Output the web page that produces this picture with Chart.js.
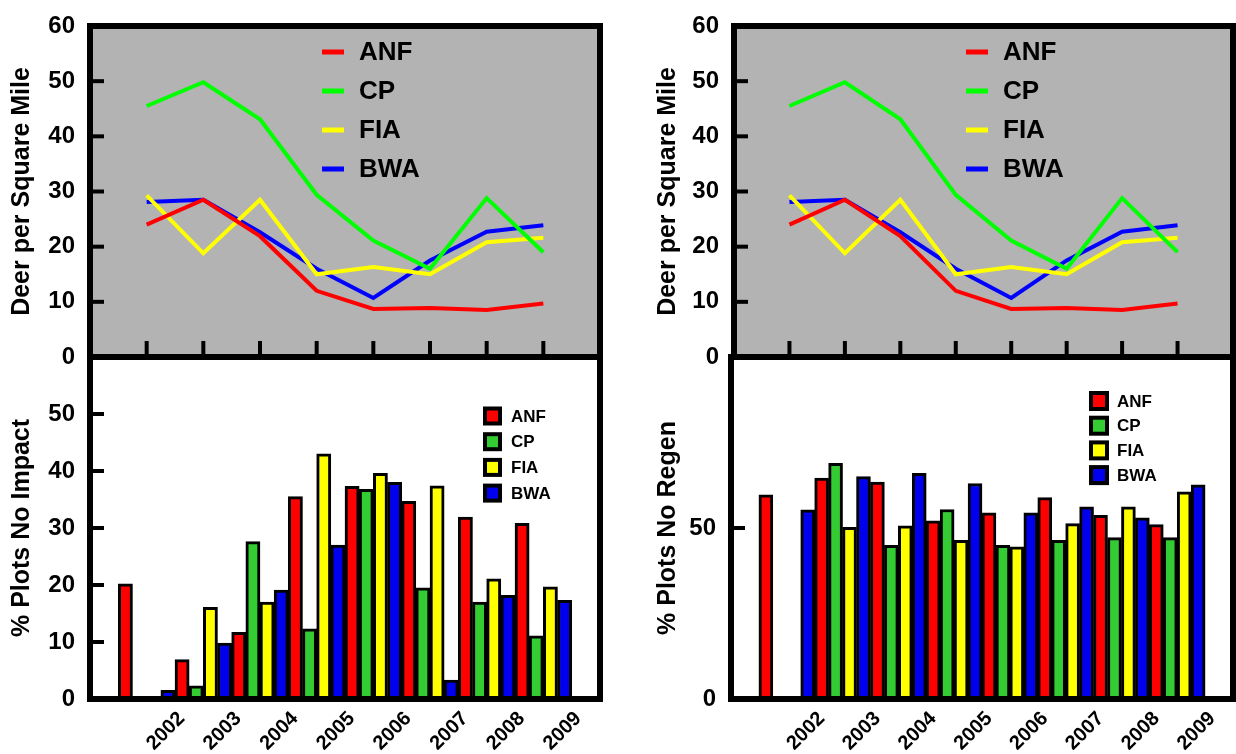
<!DOCTYPE html>
<html>
<head>
<meta charset="utf-8"/>
<style>
  html,body{margin:0;padding:0;background:#fff;overflow:hidden;width:1236px;height:754px;position:relative;}
  canvas{position:absolute;display:block;}
</style>
</head>
<body>
<canvas id="tl" width="620" height="391" style="left:0;top:-4px"></canvas>
<canvas id="tr" width="592" height="391" style="left:644px;top:-4px"></canvas>
<canvas id="bl" width="620" height="427" style="left:0;top:327px"></canvas>
<canvas id="br" width="595" height="427" style="left:641px;top:327px"></canvas>
<script src="https://cdn.jsdelivr.net/npm/chart.js@4.4.0/dist/chart.umd.min.js"></script>
<script>
const years = [2002, 2003, 2004, 2005, 2006, 2007, 2008, 2009];
const sites = ['ANF', 'CP', 'FIA', 'BWA'];

// deer per square mile
const deerANF = [24.0, 28.5, 21.9, 12.0, 8.7, 8.9, 8.5, 9.7];
const deerCP  = [45.5, 49.8, 43.1, 29.4, 21.1, 16.0, 28.8, 19.0];
const deerFIA = [29.3, 18.8, 28.5, 15.0, 16.3, 15.0, 20.8, 21.6];
const deerBWA = [28.1, 28.5, 22.6, 16.0, 10.7, 17.5, 22.7, 23.9];

// % plots no impact
const impactANF = [20.2, 6.9, 11.7, 35.5, 37.3, 34.7, 31.9, 30.8];
const impactCP  = [0, 2.3, 27.6, 12.3, 36.8, 19.5, 17.0, 11.1];
const impactFIA = [0, 16.1, 17.0, 43.0, 39.6, 37.4, 21.1, 19.7];
const impactBWA = [1.5, 9.8, 19.1, 27.0, 38.0, 3.3, 18.2, 17.3];

// % plots no regen
const regenANF = [59.7, 64.6, 63.4, 52.1, 54.4, 58.9, 53.7, 51.0];
const regenCP  = [0, 68.9, 44.9, 55.4, 44.9, 46.4, 47.2, 47.2];
const regenFIA = [0, 50.2, 50.6, 46.4, 44.5, 51.3, 56.2, 60.6];
const regenBWA = [55.3, 65.0, 66.0, 63.0, 54.4, 56.2, 53.0, 62.6];

const deerTicks   = [0, 10, 20, 30, 40, 50, 60];
const impactTicks = [0, 10, 20, 30, 40, 50, 60];
const regenTicks  = [0, 50, 100];

const lineColors = ['#ff0000', '#00ff00', '#ffff00', '#0000ff'];
const barColors  = ['#ff0000', '#33cc33', '#ffff00', '#0000ee'];
const FONT = "'Liberation Sans', Arial, Helvetica, sans-serif";

Chart.defaults.color = '#000';
Chart.defaults.font.family = FONT;

const pts = vals => years.map((yr, i) => ({ x: yr, y: vals[i] }));

function seg(ctx, x1, y1, x2, y2) {
  ctx.beginPath(); ctx.moveTo(x1, y1); ctx.lineTo(x2, y2); ctx.stroke();
}

// grey fill, black frame, inward ticks
const panel = {
  id: 'panel',
  beforeDraw(chart, args, o) {
    const { ctx, chartArea: a } = chart;
    if (!o.fill) return;
    ctx.save();
    ctx.fillStyle = o.fill;
    ctx.fillRect(a.left, a.top, a.right - a.left, a.bottom - a.top);
    ctx.restore();
  },
  afterDatasetsDraw(chart, args, o) {
    const { ctx, chartArea: a, scales: { x, y } } = chart;
    ctx.save();
    ctx.strokeStyle = '#000';
    ctx.lineWidth = 4;
    y.ticks.forEach(t => {
      const py = y.getPixelForValue(t.value);
      if (py > a.top + 4 && py < a.bottom - 4) seg(ctx, a.left, py, a.left + 14, py);
    });
    if (o.xTicks) years.forEach(v => {
      const px = x.getPixelForValue(v);
      seg(ctx, px, a.bottom, px, a.bottom - 16);
    });
    ctx.lineWidth = 6;
    ctx.strokeRect(a.left, a.top, a.right - a.left, a.bottom - a.top);
    ctx.restore();
  }
};

// legend inside the plot area
const keyLegend = {
  id: 'keyLegend',
  afterDraw(chart, args, o) {
    const { ctx, chartArea: a } = chart;
    ctx.save();
    ctx.font = `bold ${o.size}px ${FONT}`;
    ctx.textBaseline = 'middle';
    chart.data.datasets.forEach((ds, i) => {
      const cy = a.top + o.y + i * o.dy;
      if (o.kind === 'line') {
        ctx.fillStyle = ds.borderColor;
        ctx.fillRect(a.left + o.x, cy - 2.5, 22, 5);
      } else {
        ctx.fillStyle = '#000';
        ctx.fillRect(a.left + o.x, cy - o.box / 2, o.box, o.box);
        ctx.fillStyle = ds.backgroundColor;
        ctx.fillRect(a.left + o.x + 4, cy - o.box / 2 + 4, o.box - 8, o.box - 8);
      }
      ctx.fillStyle = '#000';
      ctx.fillText(ds.label, a.left + o.tx, cy + 1);
    });
    ctx.restore();
  }
};

function yAxis(ticks, max, title, titlePad, hideTop) {
  return {
    min: 0, max: max,
    afterBuildTicks: s => { s.ticks = ticks.map(v => ({ value: v })); },
    afterFit: s => { s.width = 90; },
    grid: { display: false, drawTicks: false },
    border: { display: false },
    ticks: {
      padding: 15,
      font: { size: 24, weight: 'bold' },
      callback: v => (hideTop && v === max) ? '' : String(v)
    },
    title: { display: true, text: title, font: { size: 25, weight: 'bold' }, padding: { top: titlePad, bottom: 0 } }
  };
}

function deerChart(id, rightPad, titlePad) {
  return new Chart(document.getElementById(id), {
    type: 'line',
    data: {
      datasets: sites.map((s, i) => ({
        label: s,
        data: pts([deerANF, deerCP, deerFIA, deerBWA][i]),
        borderColor: lineColors[i],
        borderWidth: 4,
        pointRadius: 0,
        tension: 0
      }))
    },
    options: {
      responsive: false, animation: false, devicePixelRatio: 1,
      layout: { padding: { top: 30, right: rightPad, bottom: 30, left: 0 } },
      plugins: {
        legend: { display: false }, tooltip: { enabled: false },
        panel: { fill: '#b3b3b3', xTicks: true },
        keyLegend: { kind: 'line', x: 232, tx: 269, y: 26, dy: 39, size: 26 }
      },
      scales: {
        x: { type: 'linear', min: 2001, max: 2010, display: false },
        y: yAxis(deerTicks, 60, 'Deer per Square Mile', titlePad, false)
      }
    },
    plugins: [panel, keyLegend]
  });
}

function barChart(id, sets, ticks, max, title, titlePad, rightPad, legend) {
  return new Chart(document.getElementById(id), {
    type: 'bar',
    data: {
      datasets: sites.map((s, i) => ({
        label: s,
        data: pts(sets[i]),
        backgroundColor: barColors[i],
        borderColor: '#000',
        borderWidth: 3,
        borderSkipped: false,
        barPercentage: 1,
        categoryPercentage: 1
      }))
    },
    options: {
      responsive: false, animation: false, devicePixelRatio: 1,
      layout: { padding: { top: 30, right: rightPad, bottom: 0, left: 0 } },
      plugins: {
        legend: { display: false }, tooltip: { enabled: false },
        panel: { xTicks: false },
        keyLegend: legend
      },
      scales: {
        x: {
          type: 'linear', min: 2001, max: 2010, offset: false,
          afterBuildTicks: s => { s.ticks = years.map(v => ({ value: v })); },
          afterFit: s => { s.height = 55; },
          grid: { display: false, drawTicks: false },
          border: { display: false },
          ticks: {
            autoSkip: false, minRotation: 45, maxRotation: 45,
            labelOffset: 35, padding: 8,
            font: { size: 20, weight: 'bold' },
            callback: v => String(v)
          }
        },
        y: yAxis(ticks, max, title, titlePad, true)
      }
    },
    plugins: [panel, keyLegend]
  });
}

deerChart('tl', 20, 7);
deerChart('tr', 3, 9);
barChart('bl', [impactANF, impactCP, impactFIA, impactBWA], impactTicks, 60,
  '% Plots No Impact', 7, 20,
  { kind: 'box', x: 393, tx: 421, y: 59, dy: 25.7, size: 17, box: 19 });
barChart('br', [regenANF, regenCP, regenFIA, regenBWA], regenTicks, 100,
  '% Plots No Regen', 12, 3,
  { kind: 'box', x: 358, tx: 386, y: 44, dy: 24.7, size: 17, box: 20 });
</script>
</body>
</html>
